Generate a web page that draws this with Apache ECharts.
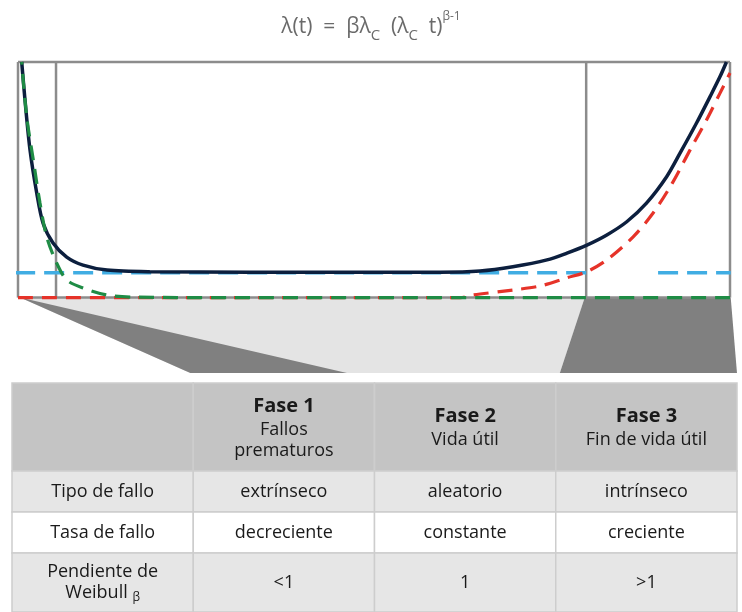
<!DOCTYPE html>
<html><head><meta charset="utf-8">
<script src="https://cdn.jsdelivr.net/npm/echarts@6/dist/echarts.min.js"></script>
<style>html,body{margin:0;padding:0;background:#fff}#c{width:742px;height:612px}</style>
</head><body><div id="c"></div>
<script>
// ---------------- data ----------------
// bathtub (total) hazard curve
const darkX = [0.52, 0.98, 1.69, 2.63, 3.51, 4.92, 6.84, 9.13, 12.5, 18.5, 32.6, 46.6, 59.3, 64.9, 69.5, 74.3, 77.1, 79.9, 82.7, 85.5, 88.3, 91.1, 93.0, 95.3, 97.2, 98.6, 99.5];
const darkY = [1.0, 0.839, 0.626, 0.444, 0.317, 0.232, 0.172, 0.138, 0.117, 0.110, 0.108, 0.108, 0.108, 0.113, 0.131, 0.160, 0.189, 0.223, 0.266, 0.322, 0.402, 0.513, 0.614, 0.741, 0.853, 0.938, 1.0];
// early failures (decreasing)
const greenX = [0.52, 1.22, 2.15, 3.09, 4.03, 5.44, 6.84, 9.13, 12.5, 16.2, 30, 50, 70, 100];
const greenY = [1.0, 0.768, 0.584, 0.401, 0.258, 0.146, 0.075, 0.041, 0.011, 0.002, 0, 0, 0, 0];
// wear-out failures (increasing)
const redX = [0, 20, 40, 62.1, 63.9, 69.5, 73.3, 77.1, 79.9, 82.7, 86.4, 89.2, 91.9, 94.4, 96.7, 98.6, 100];
const redY = [0, 0, 0, 0, 0.011, 0.032, 0.049, 0.084, 0.110, 0.160, 0.258, 0.359, 0.486, 0.627, 0.754, 0.868, 0.953];
// random failures (constant)
const blueLevel = 0.105;
const blueSegments = [[-0.4, 79.8], [89.9, 100.1]];
// phase boundaries on the time axis
const phaseBounds = [0, 5.34, 79.8, 100];
// funnel shapes below the chart (time, level)
const funnelLight = [[0.28, 0], [79.6, 0], [76.1, -0.32], [24.2, -0.32]];
const funnelDarkLeft = [[0.28, 0], [24.2, -0.32], [46.2, -0.32]];
const funnelDarkRight = [[79.6, 0], [100.1, 0], [100.98, -0.32], [76.1, -0.32]];

// table
const phaseTitles = ['', 'Fase 1', 'Fase 2', 'Fase 3'];
const phaseSubtitles = ['', 'Fallos\nprematuros', 'Vida útil', 'Fin de vida útil'];
const rowLabels = ['Tipo de fallo', 'Tasa de fallo', 'Pendiente de\nWeibull'];
const tipoFallo = ['extrínseco', 'aleatorio', 'intrínseco'];
const tasaFallo = ['decreciente', 'constante', 'creciente'];
const pendiente = ['<1', '1', '>1'];

// ---------------- layout ----------------
const rowEdges = [0, 88, 129, 170, 229];
const rowFills = ['#c4c4c4', '#e6e6e6', '#ffffff', '#e6e6e6'];
const FONT = '"Open Sans", "Noto Sans", sans-serif';

const zip = (xs, ys) => xs.map((x, i) => [x, ys[i]]);

const cells = [];
for (let c = 0; c < 4; c++) {
  cells.push({ value: [c, 0], kind: 'head', title: phaseTitles[c], sub: phaseSubtitles[c] });
}
const bodyRows = [tipoFallo, tasaFallo, pendiente];
for (let r = 0; r < 3; r++) {
  cells.push({ value: [0, r + 1], kind: r === 2 ? 'weibull' : 'body', text: rowLabels[r] });
  for (let c = 0; c < 3; c++) {
    cells.push({ value: [c + 1, r + 1], kind: 'body', text: bodyRows[r][c] });
  }
}

function cellText(item) {
  if (item.kind === 'head') {
    if (!item.title) return '';
    return '{b|' + item.title + '}\n' + item.sub.split('\n').map(s => '{n|' + s + '}').join('\n');
  }
  if (item.kind === 'weibull') {
    const parts = item.text.split('\n');
    return '{n|' + parts[0] + '}\n{n|' + parts[1] + ' }{s|β}';
  }
  return '{n|' + item.text + '}';
}

function renderCell(params, api) {
  const col = api.value(0), row = api.value(1);
  const p0 = api.coord([col, rowEdges[row]]);
  const p1 = api.coord([col + 1, rowEdges[row + 1]]);
  const x = Math.min(p0[0], p1[0]), y = Math.min(p0[1], p1[1]);
  const w = Math.abs(p1[0] - p0[0]), h = Math.abs(p1[1] - p0[1]);
  const item = cells[params.dataIndex];
  return {
    type: 'group',
    children: [
      { type: 'rect', shape: { x: x, y: y, width: w, height: h },
        style: { fill: rowFills[row], stroke: '#cdcdcd', lineWidth: 1.5 } },
      { type: 'text',
        style: {
          text: cellText(item), x: x + w / 2, y: y + h / 2,
          textAlign: 'center', textVerticalAlign: 'middle',
          rich: {
            b: { fontSize: 20, fontWeight: 'bold', fontFamily: FONT, fill: '#1a1a1a', lineHeight: 26, align: 'center' },
            n: { fontSize: 18, fontFamily: FONT, fill: '#1a1a1a', lineHeight: 21, align: 'center' },
            s: { fontSize: 12, fontFamily: FONT, fill: '#1a1a1a', lineHeight: 18, verticalAlign: 'bottom' }
          }
        } }
    ]
  };
}

function renderPoly(params, api) {
  const polys = [funnelLight, funnelDarkLeft, funnelDarkRight];
  const fills = ['#e4e4e4', '#808080', '#808080'];
  const i = params.dataIndex;
  return { type: 'polygon', shape: { points: polys[i].map(p => api.coord(p)) }, style: { fill: fills[i] } };
}

function renderFrame(params, api) {
  const children = [];
  const st = { stroke: '#8c8c8c', lineWidth: 2.5 };
  phaseBounds.forEach(b => {
    const a = api.coord([b, 0]), t = api.coord([b, 1]);
    children.push({ type: 'line', shape: { x1: a[0], y1: a[1], x2: t[0], y2: t[1] }, style: st });
  });
  [0, 1].forEach(lv => {
    const a = api.coord([phaseBounds[0], lv]), t = api.coord([phaseBounds[phaseBounds.length - 1], lv]);
    children.push({ type: 'line', shape: { x1: a[0], y1: a[1], x2: t[0], y2: t[1] }, style: st });
  });
  return { type: 'group', children: children };
}

const chart = echarts.init(document.getElementById('c'), null, { renderer: 'canvas' });
const lineBase = { type: 'line', xAxisIndex: 0, yAxisIndex: 0, showSymbol: false, symbol: 'none', clip: false, animation: false, silent: true };
const TC = '#6a6a6a';

chart.setOption({
  backgroundColor: '#ffffff',
  animation: false,
  title: {
    text: '{m|λ(t)  =  βλ}{s|C}{m|  (λ}{s|C}{m|  t)}{p|β-1}',
    left: 'center', top: 11, padding: 0,
    textStyle: {
      fontWeight: 'normal',
      rich: {
        m: { fontSize: 21, color: TC, fontFamily: FONT, fontWeight: 'normal', lineHeight: 32, verticalAlign: 'middle' },
        s: { fontSize: 15, color: TC, fontFamily: FONT, fontWeight: 'normal', lineHeight: 16, verticalAlign: 'bottom' },
        p: { fontSize: 12, color: TC, fontFamily: FONT, fontWeight: 'normal', lineHeight: 14, verticalAlign: 'top' }
      }
    }
  },
  grid: [
    { left: 18, right: 12, top: 62, bottom: 239 },
    { left: 12, right: 5, top: 383, bottom: 0 }
  ],
  xAxis: [
    { type: 'value', gridIndex: 0, min: 0, max: 100, show: false },
    { type: 'value', gridIndex: 1, min: 0, max: 4, show: false }
  ],
  yAxis: [
    { type: 'value', gridIndex: 0, min: -0.32, max: 1, show: false },
    { type: 'value', gridIndex: 1, min: 0, max: 229, inverse: true, show: false }
  ],
  series: [
    { type: 'custom', xAxisIndex: 0, yAxisIndex: 0, data: [0, 1, 2], renderItem: renderPoly, z: 1, clip: false, silent: true },
    { type: 'custom', xAxisIndex: 0, yAxisIndex: 0, data: [0], renderItem: renderFrame, z: 2, clip: false, silent: true },
    Object.assign({}, lineBase, { z: 3, data: blueSegments[0].map(x => [x, blueLevel]),
      lineStyle: { color: '#40ade3', width: 3.5, type: [20, 9] } }),
    Object.assign({}, lineBase, { z: 3, data: blueSegments[1].map(x => [x, blueLevel]),
      lineStyle: { color: '#40ade3', width: 3.5, type: [20, 9] } }),
    Object.assign({}, lineBase, { z: 4, smooth: 0.3, data: zip(darkX, darkY),
      lineStyle: { color: '#0c1f3e', width: 3.5 } }),
    Object.assign({}, lineBase, { z: 5, smooth: 0.3, data: zip(redX, redY),
      lineStyle: { color: '#e63329', width: 3.2, type: [15, 9] } }),
    Object.assign({}, lineBase, { z: 6, smooth: 0.3, data: zip(greenX, greenY),
      lineStyle: { color: '#1f8c45', width: 3.2, type: [15, 9], dashOffset: 12 } }),
    { type: 'custom', xAxisIndex: 1, yAxisIndex: 1, data: cells, renderItem: renderCell, z: 1, silent: true }
  ]
});
</script>
</body></html>
